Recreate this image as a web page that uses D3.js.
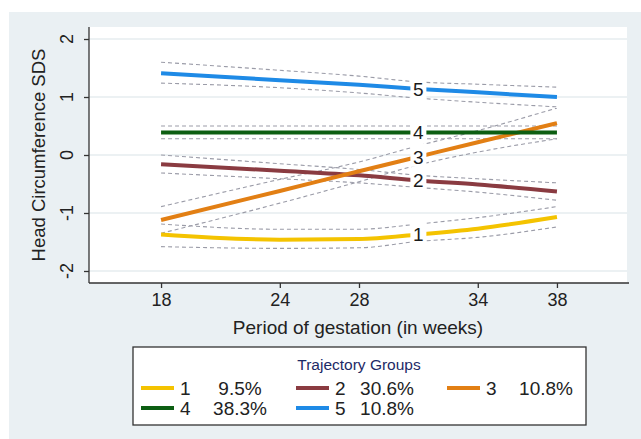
<!DOCTYPE html>
<html>
<head>
<meta charset="utf-8">
<script src="https://cdn.jsdelivr.net/npm/d3@7"></script>
<style>
  body { margin: 0; background: #fff; }
  text { font-family: "Liberation Sans", Arial, Helvetica, sans-serif; }
</style>
</head>
<body>
<div id="target_div"></div>
<script>
var weeks = [18, 24, 28, 31, 34, 38];

var g1 = [-1.37, -1.46, -1.45, -1.37, -1.27, -1.07];
var g1_hi = [-1.19, -1.28, -1.28, -1.19, -1.08, -0.89];
var g1_lo = [-1.58, -1.61, -1.60, -1.49, -1.42, -1.24];

var g2 = [-0.16, -0.27, -0.35, -0.44, -0.51, -0.63];
var g2_hi = [0.00, -0.15, -0.25, -0.35, -0.41, -0.48];
var g2_lo = [-0.31, -0.41, -0.48, -0.56, -0.64, -0.78];

var g3 = [-1.12, -0.62, -0.28, -0.03, 0.22, 0.55];
var g3_hi = [-0.89, -0.42, -0.12, 0.16, 0.42, 0.81];
var g3_lo = [-1.35, -0.83, -0.46, -0.17, 0.05, 0.28];

var g4 = [0.39, 0.39, 0.39, 0.39, 0.39, 0.39];
var g4_hi = [0.50, 0.50, 0.50, 0.50, 0.50, 0.50];
var g4_lo = [0.28, 0.28, 0.28, 0.28, 0.28, 0.28];

var g5 = [1.41, 1.29, 1.21, 1.14, 1.08, 1.00];
var g5_hi = [1.60, 1.46, 1.36, 1.26, 1.22, 1.17];
var g5_lo = [1.24, 1.16, 1.07, 0.98, 0.91, 0.83];

var groups = ['1', '2', '3', '4', '5'];
var shares = ['9.5%', '30.6%', '10.8%', '38.3%', '10.8%'];
var label_week = 31;

var x_ticks = [18, 24, 28, 34, 38];
var y_ticks = [-2, -1, 0, 1, 2];

var colors = ['#f4c300', '#8a3b41', '#e27f14', '#0d5e12', '#1e8ae6'];

var series = [
  {mid: g1, hi: g1_hi, lo: g1_lo},
  {mid: g2, hi: g2_hi, lo: g2_lo},
  {mid: g3, hi: g3_hi, lo: g3_lo},
  {mid: g4, hi: g4_hi, lo: g4_lo},
  {mid: g5, hi: g5_hi, lo: g5_lo}
];

var W = 641, H = 439;
var plot = {left: 89, right: 627, top: 27, bottom: 283};

var svg = d3.select('#target_div')
  .append('svg')
  .attr('width', W)
  .attr('height', H);

// outer grey panel + white plot region
svg.append('rect')
  .attr('x', 9).attr('y', 12)
  .attr('width', W - 9).attr('height', H - 12)
  .style('fill', '#eaf0f3');
svg.append('rect')
  .attr('x', plot.left).attr('y', plot.top)
  .attr('width', plot.right - plot.left).attr('height', plot.bottom - plot.top)
  .style('fill', '#fff');

var mapX = d3.scaleLinear().domain([14.36, 41.64]).range([plot.left, 629]);
var mapY = d3.scaleLinear().domain([-2.207, 2.207]).range([plot.bottom, plot.top]);

// gridlines
svg.selectAll('.grid')
  .data(y_ticks)
  .enter()
  .append('line')
  .attr('x1', plot.left).attr('x2', plot.right)
  .attr('y1', d => mapY(d)).attr('y2', d => mapY(d))
  .style('stroke', '#e6ecef')
  .style('stroke-width', 1.5);

var lineGen = function (vals) {
  return d3.line()
    .x((d, i) => mapX(weeks[i]))
    .y((d, i) => mapY(d))
    .curve(d3.curveMonotoneX)(vals);
};

// CI dashes first, then the trajectories
series.forEach(function (s, k) {
  [s.hi, s.lo].forEach(function (v) {
    svg.append('path')
      .attr('d', lineGen(v))
      .style('fill', 'none')
      .style('stroke', '#9b9ca8')
      .style('stroke-width', 1.1)
      .style('stroke-dasharray', '4, 3');
  });
});
series.forEach(function (s, k) {
  svg.append('path')
    .attr('d', lineGen(s.mid))
    .style('fill', 'none')
    .style('stroke', colors[k])
    .style('stroke-width', 4);
});

// group numbers sit on the curves with a small white gap
var li = weeks.indexOf(label_week);
series.forEach(function (s, k) {
  var cx = mapX(label_week);
  var ytop = mapY(s.hi[li]) - 2, ybot = mapY(s.lo[li]) + 2;
  svg.append('rect')
    .attr('x', cx - 8).attr('y', ytop)
    .attr('width', 16).attr('height', ybot - ytop)
    .style('fill', '#fff');
  svg.append('text')
    .attr('x', cx).attr('y', mapY(s.mid[li]))
    .attr('dy', '0.36em')
    .style('text-anchor', 'middle')
    .style('font-size', '19px')
    .style('fill', '#1a1a1a')
    .text(groups[k]);
});

// axes
var xAxis = d3.axisBottom(mapX).tickValues(x_ticks).tickSize(5).tickSizeOuter(0).tickPadding(5);
var yAxis = d3.axisLeft(mapY).tickValues(y_ticks).tickSize(5).tickSizeOuter(0).tickFormat('');

var gx = svg.append('g')
  .attr('transform', `translate(0, ${plot.bottom})`)
  .call(xAxis);
gx.select('.domain').attr('d', `M${plot.left},0H629`);
gx.selectAll('text').style('font-size', '18px').style('fill', '#222')
  .style('font-family', '"Liberation Sans", Arial, sans-serif');

var gy = svg.append('g')
  .attr('transform', `translate(${plot.left}, 0)`)
  .call(yAxis);
gy.select('.domain').attr('d', `M0,${plot.top}V${plot.bottom}`);

svg.selectAll('.domain, .tick line').style('stroke', '#333').style('stroke-width', 1.3);

svg.selectAll('.ylab')
  .data(y_ticks)
  .enter()
  .append('text')
  .attr('transform', d => `translate(67, ${mapY(d)}) rotate(-90)`)
  .attr('dy', '0.36em')
  .style('text-anchor', 'middle')
  .style('font-size', '18px')
  .style('fill', '#222')
  .text(d => d);

svg.append('text')
  .attr('transform', `translate(38, 155) rotate(-90)`)
  .attr('dy', '0.36em')
  .style('text-anchor', 'middle')
  .style('font-size', '18.5px')
  .style('fill', '#222')
  .text('Head Circumference SDS');

svg.append('text')
  .attr('x', 358).attr('y', 334)
  .style('text-anchor', 'middle')
  .style('font-size', '19px')
  .style('fill', '#222')
  .text('Period of gestation (in weeks)');

// legend
var leg = {x: 133, y: 347, w: 453, h: 78};
svg.append('rect')
  .attr('x', leg.x).attr('y', leg.y)
  .attr('width', leg.w).attr('height', leg.h)
  .style('fill', '#fff')
  .style('stroke', '#333')
  .style('stroke-width', 1.3);

svg.append('text')
  .attr('x', 359).attr('y', 370)
  .style('text-anchor', 'middle')
  .style('font-size', '15.5px')
  .style('fill', '#1d2a66')
  .text('Trajectory Groups');

var col_x = [141, 296, 447];
var row_y = [388, 408];

groups.forEach(function (g, k) {
  var sx = col_x[k % 3], sy = row_y[Math.floor(k / 3)];
  svg.append('line')
    .attr('x1', sx).attr('x2', sx + 33)
    .attr('y1', sy).attr('y2', sy)
    .style('stroke', colors[k])
    .style('stroke-width', 4);
  svg.append('text')
    .attr('x', sx + 39).attr('y', sy)
    .attr('dy', '0.36em')
    .style('font-size', '19px')
    .style('fill', '#222')
    .text(g);
  svg.append('text')
    .attr('x', sx + (k % 3 === 1 ? 91 : 99)).attr('y', sy)
    .attr('dy', '0.36em')
    .style('text-anchor', 'middle')
    .style('font-size', '19px')
    .style('fill', '#222')
    .text(shares[k]);
});
</script>
</body>
</html>
